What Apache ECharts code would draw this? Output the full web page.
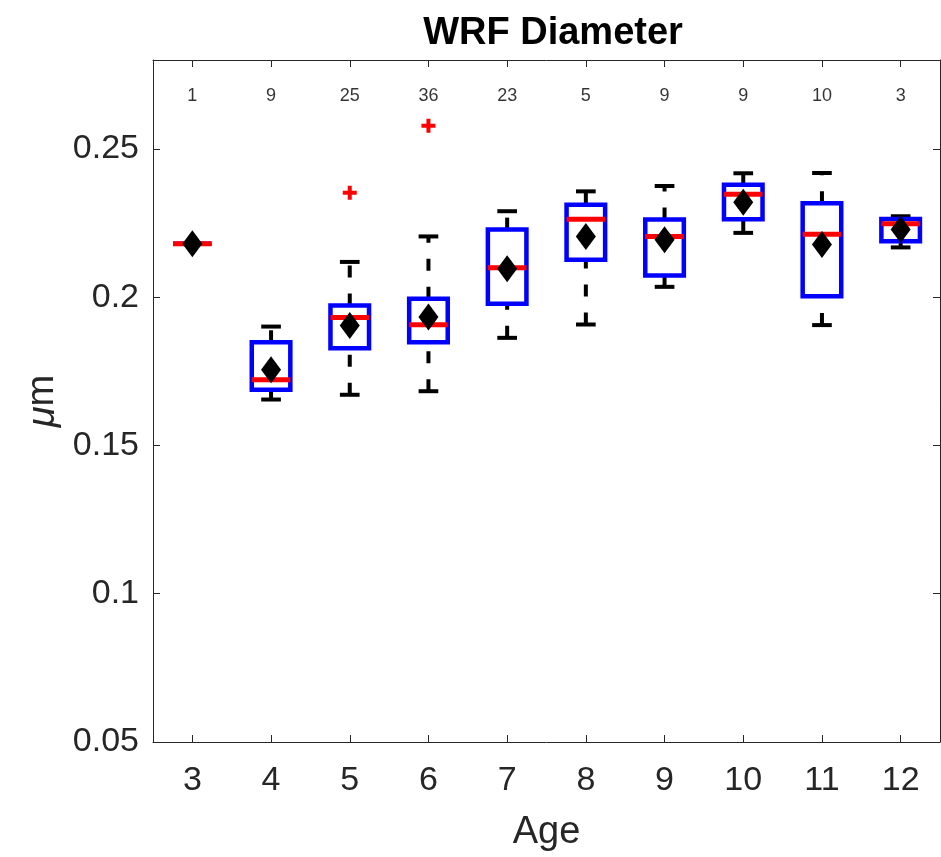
<!DOCTYPE html>
<html>
<head>
<meta charset="utf-8">
<script src="https://cdn.jsdelivr.net/npm/echarts@6/dist/echarts.min.js"></script>
<style>html,body{margin:0;padding:0;background:#fff;}#chart{width:941px;height:857px;}</style>
</head>
<body>
<div id="chart"></div>
<script>
const ages = ['3','4','5','6','7','8','9','10','11','12'];
const counts = [1, 9, 25, 36, 23, 5, 9, 9, 10, 3];
const lowerWhisker = [0.218, 0.1655, 0.1671, 0.1683, 0.1863, 0.1908, 0.2035, 0.2217, 0.1906, 0.2168];
const q1 = [0.218, 0.1688, 0.1828, 0.1848, 0.1978, 0.2126, 0.2073, 0.2263, 0.2003, 0.2189];
const medians = [0.218, 0.1722, 0.1932, 0.1907, 0.2099, 0.2263, 0.2205, 0.2347, 0.2212, 0.2248];
const q3 = [0.218, 0.1848, 0.1972, 0.1995, 0.2228, 0.2312, 0.2262, 0.2379, 0.2317, 0.2264];
const upperWhisker = [0.218, 0.1901, 0.2119, 0.2205, 0.229, 0.2357, 0.2375, 0.2418, 0.2419, 0.2273];
const means = [0.218, 0.1755, 0.1905, 0.1933, 0.2096, 0.2205, 0.2194, 0.232, 0.2178, 0.2228];
const outlierAges = ['5', '6'];
const outlierValues = [0.2352, 0.2578];
const yTicks = [0.05, 0.1, 0.15, 0.2, 0.25];

const FONT = '"Liberation Sans", Arial, Helvetica, sans-serif';
const AX = '#262626';
const COUNT_Y = 0.268;

const boxData = ages.map((a, i) => [i, lowerWhisker[i], q1[i], medians[i], q3[i], upperWhisker[i]]);
const meanData = ages.map((a, i) => [i, means[i]]);
const outlierData = outlierAges.map((a, k) => [ages.indexOf(a), outlierValues[k]]);
const countData = ages.map((a, i) => [i, COUNT_Y, counts[i]]);

function renderBox(params, api) {
  const i = api.value(0);
  const pLo = api.coord([i, api.value(1)]);
  const pQ1 = api.coord([i, api.value(2)]);
  const pMed = api.coord([i, api.value(3)]);
  const pQ3 = api.coord([i, api.value(4)]);
  const pHi = api.coord([i, api.value(5)]);
  const band = api.size([1, 0])[0];
  const cx = pMed[0];
  const boxW = band * 0.49;
  const capW = band * 0.25;
  const medW = band * 0.49;
  const black = { stroke: '#000', lineWidth: 4 };
  return {
    type: 'group',
    children: [
      { type: 'line', shape: { x1: cx, y1: pLo[1], x2: cx, y2: pQ1[1] }, style: { stroke: '#000', lineWidth: 4, lineDash: [12, 16] } },
      { type: 'line', shape: { x1: cx, y1: pQ3[1], x2: cx, y2: pHi[1] }, style: { stroke: '#000', lineWidth: 4, lineDash: [12, 16] } },
      { type: 'line', shape: { x1: cx - capW / 2, y1: pLo[1], x2: cx + capW / 2, y2: pLo[1] }, style: black },
      { type: 'line', shape: { x1: cx - capW / 2, y1: pHi[1], x2: cx + capW / 2, y2: pHi[1] }, style: black },
      { type: 'rect', shape: { x: cx - boxW / 2, y: pQ3[1], width: boxW, height: pQ1[1] - pQ3[1] }, style: { fill: 'none', stroke: '#0000ff', lineWidth: 4.5 } },
      { type: 'line', shape: { x1: cx - medW / 2, y1: pMed[1], x2: cx + medW / 2, y2: pMed[1] }, style: { stroke: '#ff0000', lineWidth: 5 } }
    ]
  };
}

const chart = echarts.init(document.getElementById('chart'), null, { renderer: 'canvas' });
const option = {
  animation: false,
  backgroundColor: '#fff',
  textStyle: { fontFamily: FONT },
  title: {
    text: 'WRF Diameter',
    left: 548,
    textAlign: 'center',
    top: 10,
    textStyle: { fontFamily: FONT, fontSize: 38, fontWeight: 'bold', color: '#000' }
  },
  grid: { left: 153, right: 1, top: 60, bottom: 115, containLabel: false },
  xAxis: [
    {
      type: 'category', data: ages, position: 'bottom', boundaryGap: true,
      axisLine: { show: true, lineStyle: { color: AX, width: 1 } },
      axisTick: { show: true, inside: true, alignWithLabel: true, length: 7, lineStyle: { color: AX } },
      axisLabel: { show: true, interval: 0, fontSize: 34, color: AX, margin: 22, fontFamily: FONT },
      splitLine: { show: false },
      name: 'Age', nameLocation: 'middle', nameGap: 72,
      nameTextStyle: { fontSize: 38, color: AX, fontFamily: FONT }
    },
    {
      type: 'category', data: ages, position: 'top', boundaryGap: true,
      axisLine: { show: true, lineStyle: { color: AX, width: 1 } },
      axisTick: { show: true, inside: true, alignWithLabel: true, length: 7, lineStyle: { color: AX } },
      axisLabel: { show: false },
      splitLine: { show: false }
    }
  ],
  yAxis: [
    {
      type: 'value', min: 0.05, max: 0.28, interval: 0.05, position: 'left',
      axisLine: { show: true, lineStyle: { color: AX, width: 1 } },
      axisTick: { show: true, inside: true, length: 7, lineStyle: { color: AX } },
      axisLabel: {
        fontSize: 34, color: AX, margin: 14, fontFamily: FONT, showMaxLabel: false,
        formatter: v => (yTicks.some(t => Math.abs(t - v) < 1e-9) ? String(+v.toFixed(2)) : '')
      },
      splitLine: { show: false },
      name: '{i|μ}{n|m}', nameLocation: 'middle', nameGap: 85,
      nameTextStyle: {
        color: AX, fontSize: 38, fontFamily: FONT,
        rich: {
          i: { fontStyle: 'italic', fontSize: 38, color: AX, fontFamily: FONT },
          n: { fontSize: 38, color: AX, fontFamily: FONT }
        }
      }
    },
    {
      type: 'value', min: 0.05, max: 0.28, interval: 0.05, position: 'right',
      axisLine: { show: true, lineStyle: { color: AX, width: 1 } },
      axisTick: { show: true, inside: true, length: 7, lineStyle: { color: AX } },
      axisLabel: { show: false },
      splitLine: { show: false }
    }
  ],
  series: [
    {
      type: 'custom', name: 'box', xAxisIndex: 0, yAxisIndex: 0,
      renderItem: renderBox, data: boxData, z: 2, clip: false
    },
    {
      type: 'scatter', name: 'mean', xAxisIndex: 0, yAxisIndex: 0,
      symbol: 'diamond', symbolSize: [20, 27], data: meanData,
      itemStyle: { color: '#000', opacity: 1 }, z: 5
    },
    {
      type: 'scatter', name: 'outliers', xAxisIndex: 0, yAxisIndex: 0,
      symbol: 'path://M5,0H9V5H14V9H9V14H5V9H0V5H5Z', symbolSize: 14, data: outlierData,
      itemStyle: { color: '#ff0000', opacity: 1 }, z: 5
    },
    {
      type: 'scatter', name: 'counts', xAxisIndex: 0, yAxisIndex: 0,
      symbolSize: 0, data: countData, silent: true,
      label: {
        show: true, position: 'inside', formatter: p => String(p.value[2]),
        fontSize: 18, color: '#000', fontFamily: FONT
      }
    }
  ]
};
chart.setOption(option);
</script>
</body>
</html>
